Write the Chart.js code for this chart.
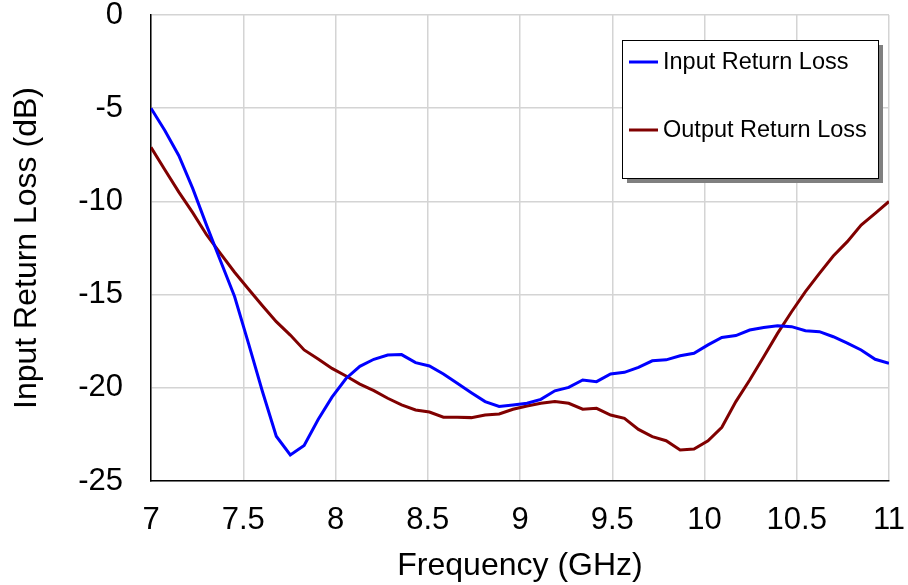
<!DOCTYPE html>
<html>
<head>
<meta charset="utf-8">
<script src="https://cdn.jsdelivr.net/npm/chart.js@4/dist/chart.umd.min.js"></script>
<style>
    body { margin: 0; background: #fff; }
    canvas { display: block; }
</style>
</head>
<body>
<canvas id="rlCanvas" width="908" height="585"></canvas>
<script>
// Frequency points (GHz)
const FREQ = [
    7.000, 7.075, 7.151, 7.226, 7.302, 7.377, 7.453, 7.528, 7.604, 7.679,
    7.755, 7.830, 7.906, 7.981, 8.057, 8.132, 8.208, 8.283, 8.358, 8.434,
    8.509, 8.585, 8.660, 8.736, 8.811, 8.887, 8.962, 9.038, 9.113, 9.189,
    9.264, 9.340, 9.415, 9.491, 9.566, 9.642, 9.717, 9.792, 9.868, 9.943,
    10.019, 10.094, 10.170, 10.245, 10.321, 10.396, 10.472, 10.547, 10.623, 10.698,
    10.774, 10.849, 10.925, 11.000
];

// Input return loss (dB)
const INPUT_RL = [
    -5.0, -6.2, -7.55, -9.3, -11.3, -13.2, -15.1, -17.6, -20.2, -22.6,
    -23.6, -23.1, -21.7, -20.5, -19.5, -18.85, -18.47, -18.24, -18.22, -18.65,
    -18.83, -19.26, -19.76, -20.26, -20.74, -21.0, -20.92, -20.83, -20.62, -20.16,
    -19.98, -19.58, -19.67, -19.26, -19.17, -18.9, -18.55, -18.5, -18.28, -18.15,
    -17.7, -17.3, -17.2, -16.9, -16.76, -16.67, -16.72, -16.94, -16.99, -17.26,
    -17.6, -17.97, -18.47, -18.69
];

// Output return loss (dB)
const OUTPUT_RL = [
    -7.1, -8.3, -9.5, -10.6, -11.8, -12.8, -13.8, -14.7, -15.6, -16.45,
    -17.17, -17.97, -18.45, -18.96, -19.37, -19.8, -20.15, -20.56, -20.92, -21.19,
    -21.3, -21.58, -21.58, -21.6, -21.46, -21.4, -21.15, -20.98, -20.83, -20.74,
    -20.83, -21.15, -21.1, -21.46, -21.64, -22.23, -22.62, -22.84, -23.34, -23.28,
    -22.84, -22.12, -20.74, -19.58, -18.33, -17.08, -15.92, -14.84, -13.86, -12.93,
    -12.16, -11.27, -10.64, -10.0
];

const X_TICKS = [7, 7.5, 8, 8.5, 9, 9.5, 10, 10.5, 11];
const Y_TICKS = [-25, -20, -15, -10, -5, 0];

const FONT = "'Liberation Sans', Arial, sans-serif";

// boxed legend with drop shadow, top right of the plot
const boxLegend = {
    id: "boxLegend",
    afterDraw(chart) {
        const ctx = chart.ctx;
        const x = 622, y = 40, w = 256, h = 138;
        ctx.save();
        ctx.fillStyle = "#808080";
        ctx.fillRect(x + 5, y + 5, w, h);
        ctx.fillStyle = "#fff";
        ctx.fillRect(x, y, w, h);
        ctx.strokeStyle = "#000";
        ctx.lineWidth = 1;
        ctx.strokeRect(x + 0.5, y + 0.5, w, h);
        ctx.font = "23.5px " + FONT;
        ctx.textBaseline = "middle";
        ctx.fillStyle = "#000";
        chart.data.datasets.forEach((ds, i) => {
            const ly = 62 + i * 68;
            ctx.strokeStyle = ds.borderColor;
            ctx.lineWidth = 3;
            ctx.beginPath();
            ctx.moveTo(629, ly);
            ctx.lineTo(658, ly);
            ctx.stroke();
            ctx.fillText(ds.label, 663, ly + 1);
        });
        ctx.restore();
    }
};

const ctx = document.getElementById("rlCanvas").getContext("2d");

new Chart(ctx, {
    type: "line",
    data: {
        datasets: [
            {
                label: "Input Return Loss",
                data: FREQ.map((f, i) => ({ x: f, y: INPUT_RL[i] })),
                borderColor: "#0000ff",
                borderWidth: 3,
                pointRadius: 0,
                tension: 0
            },
            {
                label: "Output Return Loss",
                data: FREQ.map((f, i) => ({ x: f, y: OUTPUT_RL[i] })),
                borderColor: "#800000",
                borderWidth: 3,
                pointRadius: 0,
                tension: 0
            }
        ]
    },
    options: {
        responsive: false,
        animation: false,
        layout: { padding: { top: 15, right: 19, left: 0, bottom: 0 } },
        plugins: {
            legend: { display: false },
            tooltip: { enabled: false }
        },
        scales: {
            x: {
                type: "linear",
                min: 7,
                max: 11,
                afterBuildTicks: (scale) => { scale.ticks = X_TICKS.map(v => ({ value: v })); },
                afterFit: (scale) => {
                    scale.height = 585 - 481;
                    scale.paddingLeft = 0;
                    scale.paddingRight = 0;
                },
                grid: { color: "#d4d4d4", lineWidth: 1.5, drawTicks: false },
                border: { color: "#000", width: 1.5 },
                ticks: {
                    color: "#000",
                    font: { family: FONT, size: 31 },
                    padding: 21,
                    maxRotation: 0,
                    callback: (v) => String(v)
                },
                title: {
                    display: true,
                    text: "Frequency (GHz)",
                    color: "#000",
                    font: { family: FONT, size: 32 },
                    padding: { top: 0, bottom: 0 }
                }
            },
            y: {
                min: -25,
                max: 0,
                afterBuildTicks: (scale) => { scale.ticks = Y_TICKS.map(v => ({ value: v })); },
                afterFit: (scale) => {
                    scale.width = 151;
                    scale.paddingTop = 0;
                    scale.paddingBottom = 0;
                },
                grid: { color: "#d4d4d4", lineWidth: 1.5, drawTicks: false },
                border: { color: "#000", width: 1.5 },
                ticks: {
                    color: "#000",
                    font: { family: FONT, size: 31 },
                    padding: 28,
                    callback: (v) => String(v)
                },
                title: {
                    display: true,
                    text: "Input Return Loss (dB)",
                    color: "#000",
                    font: { family: FONT, size: 32 },
                    padding: { top: 8, bottom: 0 }
                }
            }
        }
    },
    plugins: [boxLegend]
});
</script>
</body>
</html>
